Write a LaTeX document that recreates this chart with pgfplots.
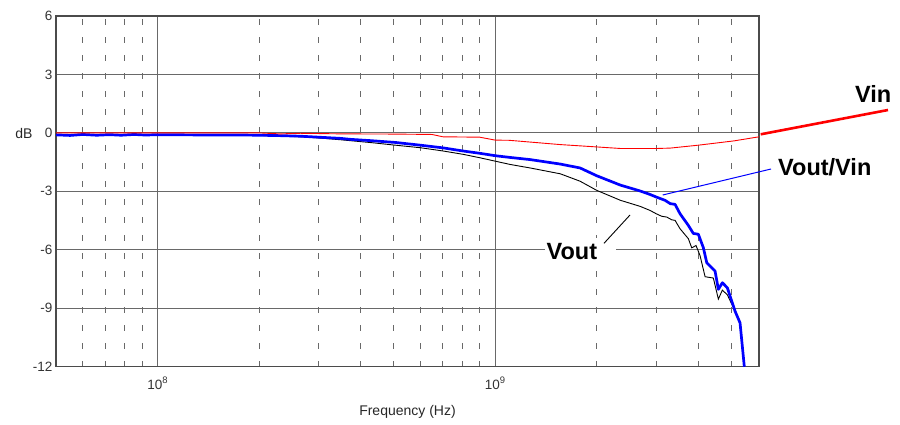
\documentclass[border=0pt]{standalone}
\usepackage{fontspec}
\setmainfont{Liberation Sans}
\usepackage{pgfplots}
\pgfplotsset{compat=1.18}
\definecolor{gridgray}{RGB}{105,105,105}
\definecolor{framegray}{RGB}{75,75,75}

\begin{document}
\begin{tikzpicture}
\begin{axis}[
    name=ax,
    scale only axis, width=703pt, height=350.7pt,
    xmode=log, log basis x=10,
    xmin=5e7, xmax=6.05e9, ymin=-12, ymax=6,
    xtick={1e8,1e9}, xticklabels={10\textsuperscript{8},10\textsuperscript{9}},
    minor xtick={6e7,7e7,8e7,9e7,2e8,3e8,4e8,5e8,6e8,7e8,8e8,9e8,2e9,3e9,4e9,5e9},
    ytick={-12,-9,-6,-3,0,3,6}, yticklabels={-12,-9,-6,-3,0,3,6},
    major tick length=0pt, minor tick length=0pt,
    xmajorgrids, xminorgrids, ymajorgrids,
    major grid style={gridgray, line width=0.9pt},
    minor grid style={gridgray, line width=0.9pt, dash pattern=on 6pt off 12pt},
    axis line style={framegray, line width=1.3pt},
    tick label style={font=\fontsize{13.5}{15}\selectfont, text=black!80},
    xticklabel style={yshift=-7pt},
]
% Vout
\addplot[black, line width=0.9pt] coordinates {
    (5e7,-0.07) (5.5e7,-0.10) (6e7,-0.06) (6.6e7,-0.10) (7.2e7,-0.07) (7.8e7,-0.10)
    (8.5e7,-0.06) (9.2e7,-0.09) (1e8,-0.08) (1.2e8,-0.09) (1.5e8,-0.10) (1.8e8,-0.11)
    (2.0e8,-0.13) (2.3e8,-0.16) (2.65e8,-0.20) (3.0e8,-0.26) (3.475e8,-0.35) (4.3e8,-0.50)
    (5.06e8,-0.63) (6.0e8,-0.76) (7.02e8,-0.93) (8.04e8,-1.10) (9.03e8,-1.28) (1.0e9,-1.45)
    (1.108e9,-1.62) (1.27e9,-1.80) (1.56e9,-2.10) (1.785e9,-2.48) (2.0e9,-2.95) (2.35e9,-3.46)
    (2.688e9,-3.77) (2.877e9,-3.98) (3.0e9,-4.15) (3.116e9,-4.28) (3.224e9,-4.32) (3.336e9,-4.46)
    (3.412e9,-4.49) (3.53e9,-4.92) (3.736e9,-5.43) (3.823e9,-5.90) (3.937e9,-5.78) (4.046e9,-6.30)
    (4.187e9,-7.38) (4.43e9,-7.45) (4.584e9,-8.53) (4.711e9,-8.07) (4.874e9,-8.31) (5.022e9,-8.79)
    (5.197e9,-9.30) (5.315e9,-9.85) (5.472e9,-12)
};
% Vout/Vin
\addplot[blue, line width=2.7pt, line join=round] coordinates {
    (5e7,-0.10) (5.5e7,-0.13) (6e7,-0.08) (6.6e7,-0.12) (7.2e7,-0.09) (7.8e7,-0.12)
    (8.5e7,-0.08) (9.2e7,-0.11) (1e8,-0.09) (1.2e8,-0.10) (1.5e8,-0.11) (1.8e8,-0.11)
    (2.0e8,-0.12) (2.3e8,-0.14) (2.65e8,-0.17) (3.0e8,-0.22) (3.475e8,-0.28) (3.72e8,-0.33)
    (4.3e8,-0.40) (5.06e8,-0.49) (6.0e8,-0.63) (7.02e8,-0.77) (8.04e8,-0.93) (9.03e8,-1.05)
    (1.0e9,-1.17) (1.108e9,-1.26) (1.27e9,-1.37) (1.56e9,-1.60) (1.785e9,-1.80) (2.0e9,-2.20)
    (2.35e9,-2.68) (2.688e9,-2.98) (2.877e9,-3.16) (3.0e9,-3.29) (3.187e9,-3.46) (3.30e9,-3.63)
    (3.412e9,-3.67) (3.53e9,-4.15) (3.736e9,-4.75) (3.865e9,-5.16) (3.999e9,-5.20) (4.138e9,-5.89)
    (4.235e9,-6.66) (4.382e9,-6.92) (4.482e9,-7.09) (4.584e9,-8.03) (4.711e9,-7.69) (4.874e9,-7.95)
    (5.022e9,-8.63) (5.137e9,-9.15) (5.315e9,-9.75) (5.472e9,-12)
};
% Vin
\addplot[red, line width=0.9pt] coordinates {
    (5e7,0.0) (1e8,0.0) (2e8,0.0) (2.3e8,-0.05) (2.65e8,-0.02) (3.5e8,-0.05) (5e8,-0.06)
    (6.5e8,-0.08) (7.0e8,-0.2) (9.0e8,-0.22) (1.0e9,-0.37) (1.1e9,-0.38) (1.56e9,-0.6)
    (2e9,-0.72) (2.35e9,-0.8) (3.0e9,-0.8) (3.3e9,-0.78) (4e9,-0.63) (5.1e9,-0.41) (6.05e9,-0.2)
};
\end{axis}
\begin{scope}[shift={(ax.south west)}, x=1pt, y=-1pt, shift={(-56,-366.7)}]
    \path (0,0) rectangle (900,424);
    \node[font=\fontsize{14}{16}\selectfont, text=black!85] at (24,133) {dB};
    \node[font=\fontsize{14}{16}\selectfont, text=black!85, anchor=base] at (407.5,415) {Frequency (Hz)};
    \fill[white] (545,238) rectangle (616,264);
    \node[font=\fontsize{23.5}{26}\selectfont\bfseries, anchor=west, inner sep=0pt] at (546.5,251.5) {Vout};
    \draw[black, line width=0.9pt] (604,243.3) -- (630,215);
    \draw[blue, line width=1pt] (662.7,195) -- (771,169);
    \node[font=\fontsize{23.5}{26}\selectfont\bfseries, anchor=west, inner sep=0pt] at (778,167) {Vout/Vin};
    \draw[red, line width=2.6pt] (760.7,134.3) -- (888,110);
    \node[font=\fontsize{23.5}{26}\selectfont\bfseries, anchor=west, inner sep=0pt] at (855,94) {Vin};
\end{scope}
\end{tikzpicture}
\end{document}
